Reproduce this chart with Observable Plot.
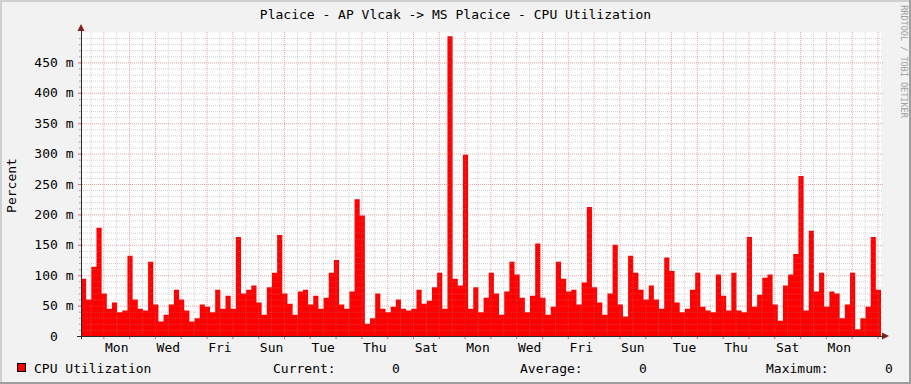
<!DOCTYPE html>
<html><head><meta charset="utf-8">
<script src="https://cdn.jsdelivr.net/npm/d3@7"></script>
<script src="https://cdn.jsdelivr.net/npm/@observablehq/plot@0.6"></script>
<style>
html,body{margin:0;padding:0;background:#f2f2f2;}
#wrap{position:relative;width:911px;height:384px;background:#f2f2f2;overflow:hidden;font-family:"DejaVu Sans Mono",monospace;}
#wrap svg{position:absolute;left:0;top:0;}
.t{position:absolute;white-space:pre;font-size:13px;line-height:13px;color:#000;}
.sh{position:absolute;}
</style></head><body>
<div id="wrap"></div>
<script>
// ---- data ----
const title = "Placice - AP Vlcak -> MS Placice - CPU Utilization";
const yAxisLabel = "Percent";
const watermark = "RRDTOOL / TOBI OETIKER";
const seriesName = "CPU Utilization";
const legendStats = ["Current:", "Average:", "Maximum:"];
const legendValues = ["0", "0", "0"];
const dayLabels = ["Mon","Wed","Fri","Sun","Tue","Thu","Sat","Mon","Wed","Fri","Sun","Tue","Thu","Sat","Mon"];
const yTicks = [0, 50, 100, 150, 200, 250, 300, 350, 400, 450];
const yTickLabels = ["0", "50 m", "100 m", "150 m", "200 m", "250 m", "300 m", "350 m", "400 m", "450 m"];
const stepDays = 0.2;        // one sample = 4.8 h
const firstMidnight = 0.865; // days from left edge to first midnight
// CPU utilization, milli-percent, one value per step
const cpu = [
  94,60,114,178,70,45,55,39,42,132,60,45,42,122,52,24,35,52,76,60,
  42,24,29,52,48,39,76,45,66,45,163,70,76,83,55,35,80,104,166,
  70,53,35,73,76,52,66,45,63,104,125,52,45,73,225,198,20,29,70,
  45,39,48,60,45,42,45,76,53,58,80,104,45,493,94,83,298,45,80,39,
  63,104,70,35,73,122,101,63,39,66,152,63,35,48,122,94,73,76,52,
  88,212,80,55,35,70,150,52,32,132,104,76,60,83,60,45,129,107,55,
  39,45,76,104,48,42,39,101,66,42,104,42,39,163,48,68,96,101,52,25,
  83,101,135,263,42,173,73,104,48,73,70,29,52,104,11,29,48,163,76
];

// ---- derived ----
const N = cpu.length;
const span = N * stepDays;
const pts = cpu.map((v, i) => ({t: i * stepDays, v}));
pts.push({t: span, v: cpu[N - 1]});
const majorX = d3.range(firstMidnight, span, 1);
const minorX = d3.range(firstMidnight - 0.5, span, 1);
const labelX = dayLabels.map((d, i) => firstMidnight + 0.5 + 2 * i);
const majorY = yTicks.filter(v => v > 0);
const minorY = d3.range(10, 500, 10).filter(v => v % 50 !== 0);

const W = 911, H = 384, ML = 81, MR = 30, MT = 32, MB = 48;
const innerW = W - ML - MR;
const fontMono = "DejaVu Sans Mono";
const charW = 13 * 0.602;

const chart = Plot.plot({
  width: W, height: H,
  marginLeft: ML, marginRight: MR, marginTop: MT, marginBottom: MB,
  style: {background: "transparent", fontFamily: fontMono, fontSize: "13px", color: "#000"},
  x: {domain: [0, span], axis: null},
  y: {domain: [0, 500], axis: null},
  marks: [
    Plot.frame({fill: "#ffffff", stroke: "none"}),
    Plot.areaY(pts, {x: "t", y: "v", curve: "step-after", fill: "#ff0000"}),
    // minor grid
    Plot.ruleY(minorY, {stroke: "#8f8f8f", strokeOpacity: 0.4, strokeDasharray: "1,1", insetLeft: -2, insetRight: -2}),
    Plot.ruleX(minorX, {stroke: "#8f8f8f", strokeOpacity: 0.4, strokeDasharray: "1,1", insetTop: 0, insetBottom: -2}),
    Plot.ruleY(minorY, {stroke: "#8f8f8f", strokeOpacity: 0.6, insetLeft: -2, insetRight: innerW}),
    // major grid
    Plot.ruleY(majorY, {stroke: "#de4f4f", strokeOpacity: 0.5, strokeDasharray: "1,1", insetLeft: -3, insetRight: -2}),
    Plot.ruleX(majorX, {stroke: "#de4f4f", strokeOpacity: 0.5, strokeDasharray: "1,1", insetTop: 0, insetBottom: -3}),
    Plot.ruleY(majorY, {stroke: "#de4f4f", strokeOpacity: 0.7, insetLeft: -3, insetRight: innerW}),
    Plot.ruleX(majorX, {stroke: "#de4f4f", strokeOpacity: 0.7, insetTop: (H - MT - MB), insetBottom: -3}),
    // axes
    Plot.ruleY([0], {stroke: "#2a2a2a", insetLeft: -4, insetRight: -2}),
    Plot.ruleX([0], {stroke: "#2a2a2a", insetTop: -2, insetBottom: -3}),
    Plot.axisY(majorY, {tickSize: 0, tickPadding: 8, label: null, fontSize: 13,
      tickFormat: d => yTickLabels[yTicks.indexOf(d)]}),
    Plot.axisY([0], {tickSize: 0, tickPadding: 8 + 2 * charW, label: null, fontSize: 13,
      tickFormat: d => yTickLabels[yTicks.indexOf(d)]}),
    Plot.axisX(labelX, {tickSize: 0, tickPadding: 6, label: null, fontSize: 13,
      tickFormat: (d) => dayLabels[labelX.indexOf(d)]})
  ]
});

const wrap = document.getElementById("wrap");
wrap.appendChild(chart);

// arrows (chrome) positioned from the scales
const sx = chart.scale("x"), sy = chart.scale("y");
const svg = d3.select(chart);
const x0 = sx.apply(0), xEnd = sx.apply(span), y0 = sy.apply(0), yTop = sy.apply(500);
svg.append("polygon")
  .attr("points", `${xEnd + 1},${y0 - 3.5} ${xEnd + 8},${y0} ${xEnd + 1},${y0 + 3.5}`)
  .attr("fill", "#801f1f");
svg.append("polygon")
  .attr("points", `${x0 - 3.5},${yTop - 1} ${x0},${yTop - 8} ${x0 + 3.5},${yTop - 1}`)
  .attr("fill", "#801f1f");

// shading frame
function box(l, t, w, h, c) {
  const d = document.createElement("div");
  d.className = "sh";
  Object.assign(d.style, {left: l + "px", top: t + "px", width: w + "px", height: h + "px", background: c});
  wrap.appendChild(d);
  return d;
}
box(0, 0, W, 2, "#cfcfcf");
box(0, 0, 2, H, "#cfcfcf");
box(W - 2, 0, 2, H, "#9e9e9e");
box(0, H - 2, W, 2, "#9e9e9e");

function text(str, l, t, extra) {
  const d = document.createElement("div");
  d.className = "t";
  d.textContent = str;
  d.style.left = l + "px";
  d.style.top = t + "px";
  if (extra) Object.assign(d.style, extra);
  wrap.appendChild(d);
  return d;
}
// title
text(title, 0, 8, {width: W + "px", textAlign: "center"});
// y label
text(yAxisLabel, 11 - 50, 185.5 - 6.5, {width: "100px", textAlign: "center", transform: "rotate(-90deg)"});
// watermark
text(watermark, 903 - 100, 61 - 4.5, {width: "200px", textAlign: "center", fontSize: "8.5px", lineHeight: "9px", color: "#a0a0a0", transform: "rotate(90deg)"});
// legend
const sw = box(17, 363, 7, 7, "#ff0000");
sw.style.border = "1px solid #000";
text(seriesName, 34, 362);
const statX = [273, 520, 766];
const valX = [392, 639, 885];
legendStats.forEach((s, i) => {
  text(s, statX[i], 362);
  text(legendValues[i], valX[i], 362);
});
</script>
</body></html>
